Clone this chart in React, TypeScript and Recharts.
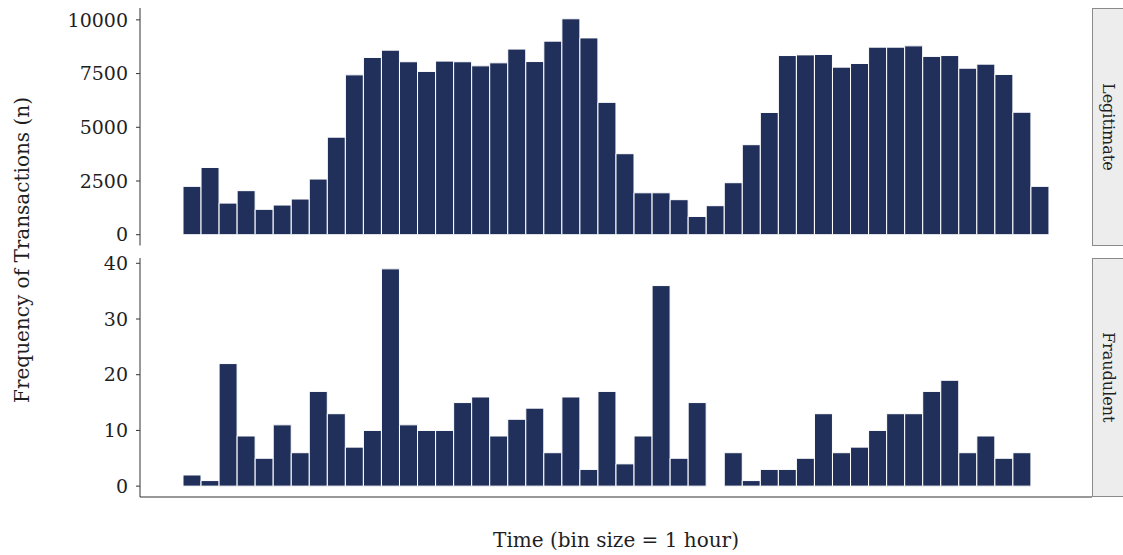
import { BarChart, Bar, XAxis, YAxis } from 'recharts';

// hourly bins over two days
const hours = Array.from({ length: 48 }, (_, i) => i);

const legitCounts = [
  2250, 3130, 1470, 2050, 1180, 1380, 1660, 2590, 4540, 7440, 8250, 8590,
  8050, 7600, 8080, 8050, 7860, 8000, 8640, 8060, 9010, 10050, 9160, 6160,
  3770, 1950, 1950, 1630, 850, 1350, 2420, 4190, 5690, 8340, 8370, 8390,
  7800, 7970, 8730, 8730, 8790, 8300, 8340, 7750, 7940, 7460, 5700, 2250,
];

const fraudCounts = [
  2, 1, 22, 9, 5, 11, 6, 17, 13, 7, 10, 39,
  11, 10, 10, 15, 16, 9, 12, 14, 6, 16, 3, 17,
  4, 9, 36, 5, 15, 0, 6, 1, 3, 3, 5, 13,
  6, 7, 10, 13, 13, 17, 19, 6, 9, 5, 6, 0,
];

const legitTicks = [0, 2500, 5000, 7500, 10000];
const fraudTicks = [0, 10, 20, 30, 40];

const legitData = hours.map((h, i) => ({ hour: h, n: legitCounts[i] }));
const fraudData = hours.map((h, i) => ({ hour: h, n: fraudCounts[i] }));

const BAR_FILL = '#21305b';
const AXIS = '#333333';
const TEXT = '#1f1f1f';
const X_PAD = { left: 43, right: 43 };

// ggplot style 5% expansion
const expand = (max: number): [number, number] => [-max * 0.05, max * 1.05];

const tickStyle = { fontSize: 19, fill: TEXT };

const Strip = ({ label, top, height }: { label: string; top: number; height: number }) => (
  <div
    style={{
      position: 'absolute',
      left: 1092,
      top,
      width: 40,
      height,
      boxSizing: 'border-box',
      background: '#ededed',
      border: '1px solid #8a8a8a',
      display: 'flex',
      alignItems: 'center',
      justifyContent: 'flex-start',
    }}
  >
    <span
      style={{
        writingMode: 'vertical-rl',
        fontSize: 16,
        color: TEXT,
        marginLeft: 6,
      }}
    >
      {label}
    </span>
  </div>
);

export default function App() {
  return (
    <div
      style={{
        position: 'absolute',
        left: 0,
        top: 0,
        width: 1123,
        height: 555,
        overflow: 'hidden',
        background: '#fff',
        fontFamily: '"DejaVu Serif", serif',
      }}
    >
      {/* Legitimate panel */}
      <div style={{ position: 'absolute', left: 0, top: 0 }}>
        <BarChart
          width={1123}
          height={250}
          data={legitData}
          margin={{ top: 8, right: 31, bottom: 4.5, left: 0 }}
          barCategoryGap={0}
          barGap={0}
        >
          <XAxis dataKey="hour" hide padding={X_PAD} />
          <YAxis
            width={140}
            domain={expand(Math.max(...legitCounts))}
            ticks={legitTicks}
            allowDataOverflow
            tick={tickStyle}
            tickSize={4}
            tickMargin={8}
            stroke={AXIS}
          />
          <Bar dataKey="n" fill={BAR_FILL} stroke="#ffffff" strokeWidth={1} isAnimationActive={false} />
        </BarChart>
      </div>

      {/* Fraudulent panel */}
      <div style={{ position: 'absolute', left: 0, top: 250 }}>
        <BarChart
          width={1123}
          height={305}
          data={fraudData}
          margin={{ top: 8, right: 31, bottom: 0, left: 0 }}
          barCategoryGap={0}
          barGap={0}
        >
          <XAxis
            dataKey="hour"
            padding={X_PAD}
            height={58}
            tick={false}
            tickLine={false}
            stroke={AXIS}
            label={{ value: 'Time (bin size = 1 hour)', position: 'insideBottom', offset: 8, fontSize: 20, fill: TEXT }}
          />
          <YAxis
            width={140}
            domain={expand(Math.max(...fraudCounts))}
            ticks={fraudTicks}
            allowDataOverflow
            tick={tickStyle}
            tickSize={4}
            tickMargin={8}
            stroke={AXIS}
          />
          <Bar dataKey="n" fill={BAR_FILL} stroke="#ffffff" strokeWidth={1} isAnimationActive={false} />
        </BarChart>
      </div>

      <svg style={{ position: 'absolute', left: 0, top: 0 }} width={50} height={555}>
        <text
          x={22}
          y={250}
          transform="rotate(-90, 22, 250)"
          textAnchor="middle"
          dominantBaseline="central"
          fontSize={20}
          fill={TEXT}
        >
          Frequency of Transactions (n)
        </text>
      </svg>

      <Strip label="Legitimate" top={8} height={238} />
      <Strip label="Fraudulent" top={258} height={239} />
    </div>
  );
}
